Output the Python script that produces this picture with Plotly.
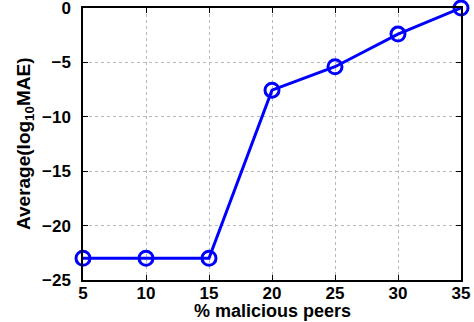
import plotly.graph_objects as go

malicious_pct = [5, 10, 15, 20, 25, 30, 35]
avg_log_mae = [-23.0, -23.0, -23.0, -7.55, -5.4, -2.4, 0.0]
x_ticks = [5, 10, 15, 20, 25, 30, 35]
y_ticks = [-25, -20, -15, -10, -5, 0]

L, R, T, B = 83, 13, 8, 42
W, H = 474, 322
pw, ph = W - L - R, H - T - B

fig = go.Figure()
fig.add_trace(go.Scatter(
    x=malicious_pct, y=avg_log_mae, mode="lines+markers",
    line=dict(color="#0000ff", width=3),
    marker=dict(symbol="circle-open", size=14, color="#0000ff", line=dict(width=3, color="#0000ff")),
    cliponaxis=False, showlegend=False,
))

fam = "Liberation Sans, Arial, sans-serif"
tickfont = dict(family=fam, size=17, color="black", weight="bold")
fig.update_layout(
    width=W, height=H,
    margin=dict(l=L, r=R, t=T, b=B, autoexpand=False),
    paper_bgcolor="white", plot_bgcolor="white",
    font=dict(family=fam, size=16, color="black"),
)
common = dict(
    showline=True, linecolor="black", linewidth=1.5, mirror="ticks",
    ticks="inside", ticklen=5, tickcolor="black",
    showgrid=True, gridcolor="#b8b8b8", griddash="dot", gridwidth=1,
    zeroline=False, automargin=False, tickfont=tickfont,
    ticklabeloverflow="allow",
)
fig.update_xaxes(range=[5, 35], tickvals=x_ticks, ticklabelstandoff=-3, **common)
fig.update_yaxes(range=[-25, 0], tickvals=y_ticks, ticklabelstandoff=7, **common)

fig.add_annotation(
    text="<b>% malicious peers</b>", xref="paper", yref="paper",
    x=0.5, y=-(311 - (H - B)) / ph, xanchor="center", yanchor="middle",
    showarrow=False, font=dict(family=fam, size=18, color="black"),
)
fig.add_annotation(
    text="<b>Average(log<sub>10</sub>MAE)</b>", xref="paper", yref="paper",
    x=(25 - L) / pw, y=0.5, xanchor="center", yanchor="middle", textangle=-90,
    showarrow=False, font=dict(family=fam, size=19, color="black"),
)

fig.write_html(
    "out.html",
    config={"displayModeBar": False},
    post_script="document.body.style.margin='0';document.body.style.overflow='hidden';",
)
